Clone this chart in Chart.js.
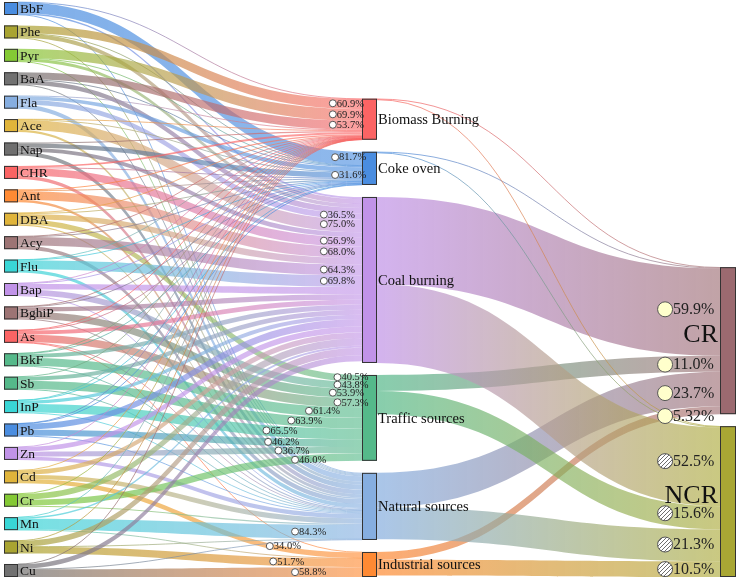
<!DOCTYPE html>
<html>
<head>
<meta charset="utf-8">
<script src="https://cdn.jsdelivr.net/npm/chart.js@4.4.0/dist/chart.umd.min.js"></script>
<style>
  html, body { margin: 0; padding: 0; background: #fff; }
</style>
</head>
<body>
<canvas id="chart" width="737" height="580"></canvas>
<script>
const pollutants = ['BbF','Phe','Pyr','BaA','Fla','Ace','Nap','CHR','Ant','DBA','Acy','Flu','Bap',
                    'BghiP','As','BkF','Sb','InP','Pb','Zn','Cd','Cr','Mn','Ni','Cu']
const pollutantColors = ['#4a8de0','#a9a431','#84c934','#717171','#86aee0','#e0b43a','#6f6f6f','#fb6464',
                         '#ff8a33','#e0b43a','#9d7474','#39d6d6','#c193e8','#9d7474','#fb6464','#55b98a',
                         '#55b98a','#39d6d6','#4a8de0','#c193e8','#e0b43a','#84c934','#39d6d6','#a9a431','#717171']

const sources = ['Biomass Burning','Coke oven','Coal burning','Traffic sources','Natural sources','Industrial sources']
const sourceColors = ['#fb6464','#4a8de0','#c193e8','#55b98a','#86aee0','#ff8a33']

const risks = ['CR','NCR']
const riskColors = ['#9b6a70','#a9a734']

// share (%) of every pollutant coming from each source, same order as pollutants
const biomass     = [2, 60.9, 69.9, 53.7, 4, 3, 8, 12, 8, 2, 3, 2, 2, 2, 4, 1, 1, 1, 1, 1, 1, 1, 1, 1, 1]
const cokeOven    = [81.7, 3, 2, 6, 28, 4, 31.6, 4, 4, 8, 4, 3, 5, 4, 2, 4, 0, 3, 2, 0, 0, 0, 0, 0, 0]
const coalBurning = [12, 30, 24, 34, 36.5, 75, 30, 56.9, 68, 40, 64.3, 69.8, 43, 33, 30, 30, 30, 26, 45, 36, 33.5, 45, 12, 45, 37]
const traffic     = [0, 0, 0, 0, 0, 0, 0, 0, 0, 40.5, 0, 0, 43.8, 53.9, 57.3, 61.4, 63.9, 65.5, 46.2, 36.7, 0, 46.0, 0, 0, 0]
const natural     = [4.3, 6.1, 4.1, 6.3, 31.5, 18, 30.4, 27.1, 20, 9.5, 28.7, 25.2, 6.2, 7.1, 3.7, 3.6, 5.1, 4.5, 5.8, 26.3, 31.5, 8, 84.3, 2.3, 3.2]
const industrial  = [0, 0, 0, 0, 0, 0, 0, 0, 0, 0, 0, 0, 0, 0, 3, 0, 0, 0, 0, 0, 34, 0, 2.7, 51.7, 58.8]

// source -> risk flows, same order as sources
const toCR  = [4, 4, 524, 96, 207, 47]
const toNCR = [4, 4, 472, 140, 191, 94]
const crLabels  = ['', '', '59.9%', '11.0%', '23.7%', '5.32%']
const ncrLabels = ['', '', '52.5%', '15.6%', '21.3%', '10.5%']

// where along each pollutant's main flow its percentage sits (0 = pollutant, 1 = source)
const labelT = [0.945, 0.94, 0.94, 0.94, 0.92, 0.92, 0.945, 0.92, 0.92, 0.95, 0.92, 0.92, 0.95,
                0.94, 0.95, 0.885, 0.84, 0.77, 0.775, 0.805, 0.78, 0.85, 0.85, 0.79, 0.85]

const GAP_L = 80, GAP = 72, Y_SPAN = 3450
const FONT = "'Liberation Serif', 'Times New Roman', serif"

// ---- build nodes / links ----
const columns = [biomass, cokeOven, coalBurning, traffic, natural, industrial]
const P = pollutants.length, S = sources.length
const nodes = []
pollutants.forEach((p, i) => nodes.push({ name: p, col: 0, color: pollutantColors[i] }))
sources.forEach((s, j) => nodes.push({ name: s, col: 1, color: sourceColors[j] }))
risks.forEach((r, k) => nodes.push({ name: r, col: 2, color: riskColors[k] }))

const links = []
pollutants.forEach((p, i) => {
    let own = []
    columns.forEach((col, j) => {
        if (col[i] > 0) {
            let l = { s: i, t: P + j, v: col[i] }
            links.push(l)
            own.push(l)
        }
    })
    let top = own.reduce((a, b) => b.v > a.v ? b : a)
    top.label = top.v.toFixed(1) + '%'
    top.labelT = labelT[i]
    top.kind = 'small'
})
;[toCR, toNCR].forEach((arr, k) => {
    arr.forEach((v, j) => {
        if (v <= 0) return
        let txt = (k == 0 ? crLabels : ncrLabels)[j]
        links.push({ s: P + j, t: P + S + k, v: v, label: txt || null, labelT: 0.88, kind: k == 0 ? 'cr' : 'ncr' })
    })
})

nodes.forEach(n => { n.in = 0; n.out = 0 })
links.forEach(l => { nodes[l.s].out += l.v; nodes[l.t].in += l.v })
nodes.forEach(n => n.value = Math.max(n.in, n.out))

// left column from the top, the others sit on the bottom
let yy = 0
nodes.filter(n => n.col == 0).forEach(n => { n.y0 = yy; n.y1 = yy + n.value; yy += n.value + GAP_L })
const LEFT_SPAN = yy - GAP_L
;[1, 2].forEach(c => {
    let col = nodes.filter(n => n.col == c)
    let total = col.reduce((a, n) => a + n.value, 0) + GAP * (col.length - 1)
    let y = Y_SPAN - total
    col.forEach(n => { n.y0 = y; n.y1 = y + n.value; y += n.value + GAP })
})

nodes.forEach((n, idx) => {
    let outs = links.filter(l => l.s == idx).sort((a, b) => nodes[a.t].y0 - nodes[b.t].y0)
    let o = n.y0
    outs.forEach(l => { l.sy = o; o += l.v })
    let ins = links.filter(l => l.t == idx).sort((a, b) => nodes[a.s].y0 - nodes[b.s].y0)
    o = n.y0
    ins.forEach(l => { l.ty = o; o += l.v })
})

// hatch for the NCR markers
const hatch = document.createElement('canvas')
hatch.width = hatch.height = 4
const hg = hatch.getContext('2d')
hg.fillStyle = '#fff'; hg.fillRect(0, 0, 4, 4)
hg.strokeStyle = '#6e6e6e'; hg.lineWidth = 1
hg.beginPath()
hg.moveTo(0, 4); hg.lineTo(4, 0)
hg.moveTo(-1, 1); hg.lineTo(1, -1)
hg.moveTo(3, 5); hg.lineTo(5, 3)
hg.stroke()

const hexA = (hex, a) => {
    let n = parseInt(hex.slice(1), 16)
    return 'rgba(' + (n >> 16) + ',' + ((n >> 8) & 255) + ',' + (n & 255) + ',' + a + ')'
}

const sankeyPlugin = {
    id: 'sankey',
    afterDatasetsDraw(chart) {
        const ctx = chart.ctx
        const xs = chart.scales.x, ys = chart.scales.y, yl = chart.scales.yL
        const nodeW = [14, 15, 16]
        const px = n => xs.getPixelForValue(n.col)
        const py = (n, v) => (n.col == 0 ? yl : ys).getPixelForValue(v)

        ctx.save()
        // flows
        links.forEach(l => {
            const a = nodes[l.s], b = nodes[l.t]
            const x0 = px(a) + nodeW[a.col], x1 = px(b), xm = (x0 + x1) / 2
            const s0 = py(a, l.sy), s1 = py(a, l.sy + l.v)
            const t0 = py(b, l.ty), t1 = py(b, l.ty + l.v)
            const grad = ctx.createLinearGradient(x0, 0, x1, 0)
            grad.addColorStop(0, hexA(a.color, 0.7))
            grad.addColorStop(1, hexA(b.color, 0.62))
            if (Math.max(s1 - s0, t1 - t0) < 1.1) {
                const sc = (s0 + s1) / 2, tc = (t0 + t1) / 2
                ctx.beginPath()
                ctx.moveTo(x0, sc)
                ctx.bezierCurveTo(xm, sc, xm, tc, x1, tc)
                ctx.strokeStyle = grad
                ctx.lineWidth = 1
                ctx.stroke()
            } else {
                ctx.beginPath()
                ctx.moveTo(x0, s0)
                ctx.bezierCurveTo(xm, s0, xm, t0, x1, t0)
                ctx.lineTo(x1, t1)
                ctx.bezierCurveTo(xm, t1, xm, s1, x0, s1)
                ctx.closePath()
                ctx.fillStyle = grad
                ctx.fill()
            }
            l.geom = { x0, x1, xm, sc: (s0 + s1) / 2, tc: (t0 + t1) / 2 }
        })

        // nodes
        nodes.forEach(n => {
            const x = px(n), y0 = py(n, n.y0), y1 = py(n, n.y1)
            ctx.fillStyle = n.color
            ctx.fillRect(x, y0, nodeW[n.col], y1 - y0)
            ctx.strokeStyle = '#333'
            ctx.lineWidth = 1
            ctx.strokeRect(x + 0.5, y0 + 0.5, nodeW[n.col] - 1, y1 - y0 - 1)
        })

        // flow labels
        ctx.textBaseline = 'middle'
        ctx.textAlign = 'left'
        links.filter(l => l.label).forEach(l => {
            const g = l.geom, t = l.labelT, u = 1 - t
            const x = u * u * u * g.x0 + 3 * u * u * t * g.xm + 3 * u * t * t * g.xm + t * t * t * g.x1
            const y = (u * u * u + 3 * u * u * t) * g.sc + (3 * u * t * t + t * t * t) * g.tc
            const r = l.kind == 'small' ? 3.5 : 7.5
            ctx.beginPath()
            ctx.arc(x, y, r, 0, Math.PI * 2)
            ctx.fillStyle = l.kind == 'cr' ? '#ffffcc' : l.kind == 'ncr' ? ctx.createPattern(hatch, 'repeat') : '#fff'
            ctx.fill()
            ctx.strokeStyle = '#555'
            ctx.lineWidth = 1
            ctx.stroke()
            ctx.fillStyle = '#222'
            ctx.font = (l.kind == 'small' ? '10.5px ' : '16px ') + FONT
            ctx.fillText(l.label, x + r + 0.5, y + 0.5)
        })

        // node names
        nodes.forEach(n => {
            const x = px(n), yc = (py(n, n.y0) + py(n, n.y1)) / 2
            ctx.fillStyle = '#111'
            if (n.col == 0) {
                ctx.font = '13.5px ' + FONT
                ctx.textAlign = 'left'
                ctx.fillText(n.name, x + nodeW[0] + 2, yc + 1)
            } else if (n.col == 1) {
                ctx.font = '14.5px ' + FONT
                ctx.textAlign = 'left'
                ctx.fillText(n.name, x + nodeW[1] + 1, yc + 1)
            } else {
                ctx.font = '26px ' + FONT
                ctx.textAlign = 'right'
                ctx.fillText(n.name, x - 2, yc - 5)
            }
        })
        ctx.restore()
    }
}

const ctx = document.getElementById('chart').getContext('2d')
const myChart = new Chart(ctx, {
    type: 'scatter',
    data: {
        datasets: [
            { data: [], yAxisID: 'y' },
            { data: [], yAxisID: 'yL' }
        ]
    },
    options: {
        responsive: false,
        animation: false,
        layout: { padding: { left: 4, right: 17, top: 2, bottom: 3 } },
        plugins: { legend: { display: false }, tooltip: { enabled: false } },
        scales: {
            x: { type: 'linear', min: 0, max: 2, display: false },
            y: { type: 'linear', min: 0, max: Y_SPAN, reverse: true, display: false },
            yL: { type: 'linear', min: 0, max: LEFT_SPAN, reverse: true, display: false }
        }
    },
    plugins: [sankeyPlugin]
})
</script>
</body>
</html>
